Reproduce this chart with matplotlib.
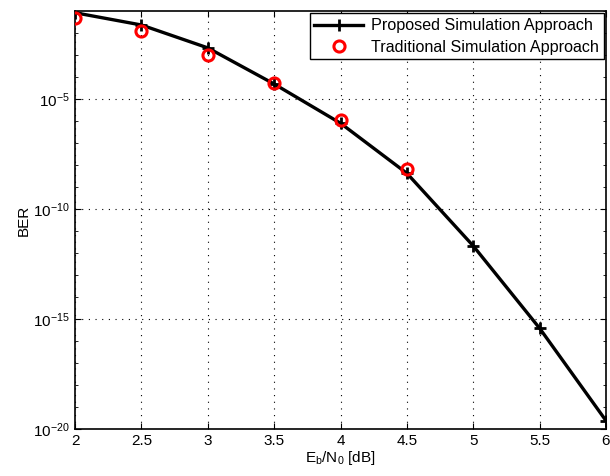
import matplotlib
matplotlib.use("Agg")
import matplotlib.pyplot as plt
from matplotlib.ticker import LogLocator, NullFormatter

plt.rcParams['font.family'] = ['Liberation Sans', 'DejaVu Sans']
plt.rcParams['mathtext.fontset'] = 'custom'
plt.rcParams['mathtext.rm'] = 'Liberation Sans'
plt.rcParams['mathtext.it'] = 'Liberation Sans'

ebn0_prop = [2.0, 2.5, 3.0, 3.5, 4.0, 4.5, 5.0, 5.5, 6.0]
ber_prop = [8.3e-2, 2.3e-2, 2.1e-3, 4.8e-5, 7.9e-7, 4.2e-9, 2.1e-12, 3.8e-16, 2.4e-20]
ebn0_trad = [2.0, 2.5, 3.0, 3.5, 4.0, 4.5]
ber_trad = [4.7e-2, 1.23e-2, 1.0e-3, 5.1e-5, 1.07e-6, 6.6e-9]
xticks = [2, 2.5, 3, 3.5, 4, 4.5, 5, 5.5, 6]
xticklabels = ['2', '2.5', '3', '3.5', '4', '4.5', '5', '5.5', '6']
yticks = [1e-20, 1e-15, 1e-10, 1e-5]

fig = plt.figure(figsize=(6.1, 4.76), dpi=100)
ax = fig.add_axes([0.123, 0.0987, 0.8704, 0.8783])

ax.semilogy(ebn0_prop, ber_prop, color='black', lw=2.4, marker='+',
            ms=8, mew=2, label='Proposed Simulation Approach', zorder=3)
ax.semilogy(ebn0_trad, ber_trad, ls='none', marker='o', ms=8, mfc='none',
            mec='red', mew=2.2, label='Traditional Simulation Approach', zorder=4)

ax.set_xlim(2, 6)
ax.set_ylim(1e-20, 1e-1)
ax.set_xticks(xticks)
ax.set_xticklabels(xticklabels)
ax.set_yticks(yticks)
ax.yaxis.set_minor_locator(LogLocator(base=10, numticks=30))
ax.yaxis.set_minor_formatter(NullFormatter())
ax.tick_params(which='both', direction='in', top=True, right=True, labelsize=11)
ax.tick_params(which='major', length=4)
ax.tick_params(which='minor', length=2)
ax.grid(True, which='major', ls=(0, (1, 5)), color='black', lw=0.8)
for s in ax.spines.values():
    s.set_linewidth(1.2)

ax.set_xlabel(r'E$_\mathregular{b}$/N$_\mathregular{0}$ [dB]', fontsize=11, labelpad=1)
ax.set_ylabel('BER', fontsize=11, labelpad=2)

leg = ax.legend(loc='upper right', fontsize=11.6, frameon=True, fancybox=False,
                edgecolor='black', framealpha=1, borderaxespad=0.15,
                handlelength=3, borderpad=0.3, labelspacing=0.4, handletextpad=0.5)
leg.get_frame().set_linewidth(1.0)

fig.savefig('out.png', dpi=100)
